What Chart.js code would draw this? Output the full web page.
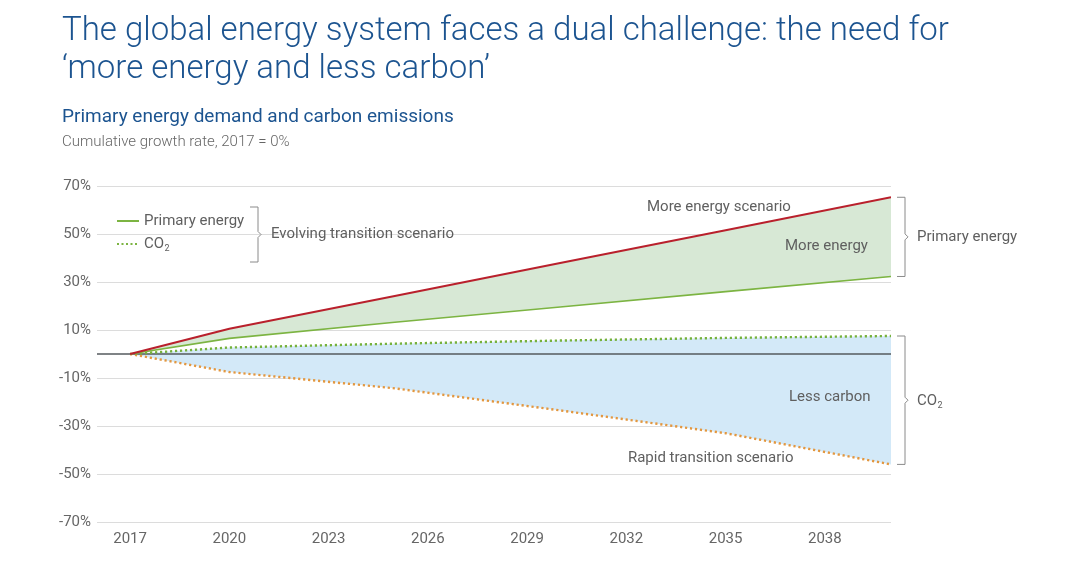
<!DOCTYPE html>
<html>
<head>
<meta charset="utf-8">
<script src="https://cdn.jsdelivr.net/npm/chart.js@4.4.0/dist/chart.umd.min.js"></script>
<style>
  html, body { margin: 0; padding: 0; background: #fff; }
  body { width: 1080px; height: 584px; position: relative; overflow: hidden; font-family: Roboto, "Liberation Sans", sans-serif; }
  #wrap { position: absolute; left: 0; top: 0; width: 1080px; height: 584px; }
  .title { position: absolute; left: 62px; top: 10px; font-size: 33px; font-weight: 300; line-height: 38px; color: #1c5490; }
  .sub { position: absolute; left: 62px; top: 104px; font-size: 19px; color: #1c5490; }
  .note { position: absolute; left: 62px; top: 132px; font-size: 15px; color: #666; font-weight: 300; }
</style>
</head>
<body>
<div id="wrap"><canvas id="chart"></canvas></div>
<div class="title">The global energy system faces a dual challenge: the need for<br>‘more energy and less carbon’</div>
<div class="sub">Primary energy demand and carbon emissions</div>
<div class="note">Cumulative growth rate, 2017 = 0%</div>
<script>
var years = [2017, 2020, 2025, 2030, 2035, 2040];
var moreEnergy = [0, 10.5, 24.2, 37.9, 51.6, 65.3];
var evolvingEnergy = [0, 6.5, 13.2, 19.6, 26.0, 32.3];
var evolvingCO2 = [0, 2.7, 4.3, 5.6, 6.7, 7.5];
var rapidCO2 = [0, -7.5, -14.3, -23.5, -33.0, -46.0];
var xTicks = [2017, 2020, 2023, 2026, 2029, 2032, 2035, 2038];
var yTicks = [-70, -50, -30, -10, 10, 30, 50, 70];
var baseline = [0, 0];
var baselineYears = [2016, 2040];

function pts(xs, ys) {
    return xs.map(function (x, i) { return { x: x, y: ys[i] }; });
}

var txt = '#5f5f5f';
var bracketColor = '#8a8a8a';
var labelFont = '15px Roboto';

function co2(ctx, x, y, size) {
    ctx.font = size + 'px Roboto';
    var w = ctx.measureText('CO').width;
    ctx.textAlign = 'left';
    ctx.fillText('CO', x, y);
    ctx.font = Math.round(size * 0.6) + 'px Roboto';
    ctx.fillText('2', x + w + 0.5, y + 5);
    ctx.font = labelFont;
}

function rightBracket(ctx, x, top, bottom) {
    var mid = (top + bottom) / 2;
    ctx.beginPath();
    ctx.moveTo(x, top);
    ctx.lineTo(x + 8, top);
    ctx.lineTo(x + 8, mid - 3);
    ctx.lineTo(x + 11, mid);
    ctx.lineTo(x + 8, mid + 3);
    ctx.lineTo(x + 8, bottom);
    ctx.lineTo(x, bottom);
    ctx.stroke();
    return mid;
}

var annotations = {
    id: 'annotations',
    afterDatasetsDraw: function (chart) {
        var ctx = chart.ctx;
        var xs = chart.scales.x, ys = chart.scales.y;
        var last = years.length - 1;
        ctx.save();
        ctx.fillStyle = txt;
        ctx.textBaseline = 'middle';
        ctx.font = labelFont;
        ctx.textAlign = 'center';
        ctx.fillText('More energy scenario', xs.getPixelForValue(2034.8), ys.getPixelForValue(61.2));
        ctx.fillText('More energy', xs.getPixelForValue(2038.05), ys.getPixelForValue(45));
        ctx.fillText('Less carbon', xs.getPixelForValue(2038.15), ys.getPixelForValue(-17.9));
        ctx.fillText('Rapid transition scenario', xs.getPixelForValue(2034.55), ys.getPixelForValue(-43.3));

        // right-hand brackets
        ctx.strokeStyle = bracketColor;
        ctx.lineWidth = 1;
        var bx = chart.chartArea.right + 6;
        var m1 = rightBracket(ctx, bx, ys.getPixelForValue(moreEnergy[last]), ys.getPixelForValue(evolvingEnergy[last]));
        ctx.textAlign = 'left';
        ctx.fillText('Primary energy', bx + 20, m1);
        var m2 = rightBracket(ctx, bx, ys.getPixelForValue(evolvingCO2[last]), ys.getPixelForValue(rapidCO2[last]));
        co2(ctx, bx + 20, m2 + 1, 15);

        // legend
        var lx = chart.chartArea.left + 20;
        ctx.lineWidth = 2;
        ctx.strokeStyle = '#7cb442';
        ctx.beginPath();
        ctx.moveTo(lx, 221);
        ctx.lineTo(lx + 22, 221);
        ctx.stroke();
        ctx.setLineDash([2, 2.5]);
        ctx.beginPath();
        ctx.moveTo(lx, 244);
        ctx.lineTo(lx + 22, 244);
        ctx.stroke();
        ctx.setLineDash([]);
        ctx.textAlign = 'left';
        ctx.fillText('Primary energy', lx + 27, 221);
        co2(ctx, lx + 27, 244, 15);
        ctx.strokeStyle = bracketColor;
        ctx.lineWidth = 1;
        var m3 = rightBracket(ctx, lx + 133, 207, 262);
        ctx.textAlign = 'left';
        ctx.fillText('Evolving transition scenario', lx + 154, m3);
        ctx.restore();
    }
};

var ctx = document.getElementById('chart').getContext('2d');
var chart = new Chart(ctx, {
    type: 'line',
    data: {
        datasets: [
            {
                label: 'More energy scenario',
                data: pts(years, moreEnergy),
                borderColor: '#b9202c',
                borderWidth: 2,
                backgroundColor: '#d7e8d5',
                fill: '+1',
                pointRadius: 0,
                tension: 0
            },
            {
                label: 'Primary energy',
                data: pts(years, evolvingEnergy),
                borderColor: '#7cb442',
                borderWidth: 1.6,
                fill: false,
                pointRadius: 0,
                tension: 0
            },
            {
                label: 'CO2',
                data: pts(years, evolvingCO2),
                borderColor: '#76b13c',
                borderWidth: 2.4,
                borderDash: [2.2, 2.8],
                backgroundColor: '#d3e9f8',
                fill: '+1',
                pointRadius: 0,
                tension: 0
            },
            {
                label: 'Rapid transition scenario',
                data: pts(years, rapidCO2),
                borderColor: '#e3973f',
                borderWidth: 2.4,
                borderDash: [2.2, 2.8],
                fill: false,
                pointRadius: 0,
                tension: 0
            },
            {
                label: 'zero',
                data: pts(baselineYears, baseline),
                borderColor: '#555a5e',
                borderWidth: 1.5,
                fill: false,
                pointRadius: 0
            }
        ]
    },
    options: {
        responsive: true,
        maintainAspectRatio: false,
        animation: false,
        layout: {
            padding: { left: 0, top: 186, right: 189, bottom: 22 }
        },
        plugins: {
            legend: { display: false },
            tooltip: { enabled: false },
            filler: { drawTime: 'beforeDatasetsDraw' }
        },
        scales: {
            x: {
                type: 'linear',
                min: 2016,
                max: 2040,
                afterBuildTicks: function (scale) {
                    scale.ticks = xTicks.map(function (v) { return { value: v }; });
                },
                afterFit: function (scale) { scale.height = 40; },
                grid: { display: false, drawTicks: false },
                border: { display: false },
                ticks: {
                    padding: 8,
                    color: '#666',
                    font: { family: 'Roboto', size: 15 },
                    callback: function (v) { return String(v); }
                }
            },
            y: {
                min: -70,
                max: 70,
                afterBuildTicks: function (scale) {
                    scale.ticks = yTicks.map(function (v) { return { value: v }; });
                },
                afterFit: function (scale) { scale.width = 97; },
                grid: { color: '#dcdcdc', lineWidth: 1, drawTicks: false },
                border: { display: false },
                ticks: {
                    padding: 6,
                    color: '#666',
                    font: { family: 'Roboto', size: 15 },
                    callback: function (v) { return v + '%'; }
                }
            }
        }
    },
    plugins: [annotations]
});
</script>
</body>
</html>
